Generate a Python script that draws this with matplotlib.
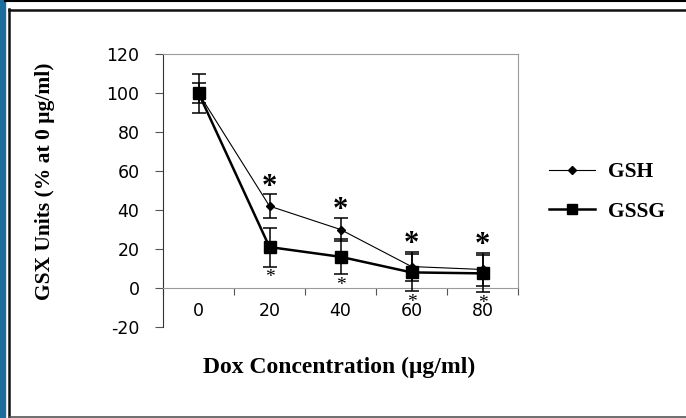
import matplotlib.pyplot as plt
from matplotlib.lines import Line2D
from matplotlib.patches import Rectangle

plt.rcParams['axes.unicode_minus'] = False

# GSH / GSSG levels vs doxorubicin dose
dox = ['0', '20', '40', '60', '80']
gsh = [100, 42, 30, 11, 9.5]
gsh_err = [10, 6, 6, 7.5, 8.5]
gssg = [100, 21, 16, 8, 7.5]
gssg_err = [5, 10, 9, 9.5, 9.5]

W, H = 686, 418
fig = plt.figure(figsize=(W / 100, H / 100), dpi=100)
ax = fig.add_axes([163 / W, 1 - 327 / H, 355 / W, 273 / H])

x = list(range(len(dox)))
ax.errorbar(x, gsh, yerr=gsh_err, color='black', lw=0.8, marker='D', ms=4.5,
            capsize=5, elinewidth=1.1, capthick=1.1, zorder=3)
ax.errorbar(x, gssg, yerr=gssg_err, color='black', lw=1.8, marker='s', ms=8,
            capsize=5, elinewidth=1.1, capthick=1.1, zorder=4)

# significance stars
for i in range(1, len(dox)):
    ax.annotate('*', xy=(i, gsh[i] + gsh_err[i]), xytext=(0, 5), textcoords='offset points',
                ha='center', va='center', fontsize=22, fontweight='bold',
                fontfamily='Liberation Serif')
    ax.annotate('*', xy=(i, gssg[i] - gssg_err[i]), xytext=(0, -8), textcoords='offset points',
                ha='center', va='center', fontsize=14,
                fontfamily='Liberation Serif')

ax.set_xlim(-0.5, len(dox) - 0.5)
ax.set_ylim(-20, 120)
ax.set_yticks(range(-20, 121, 20))

ax.spines['bottom'].set_position(('data', 0))
ax.spines['bottom'].set_color('#9a9a9a')
ax.spines['top'].set_color('#9a9a9a')
ax.spines['right'].set_color('#9a9a9a')
ax.spines['right'].set_bounds(0, 120)
ax.spines['left'].set_color('#333333')

ax.set_xticks([i - 0.5 for i in range(len(dox) + 1)])
ax.set_xticklabels([])
ax.set_xticks(x, minor=True)
ax.set_xticklabels(dox, minor=True)
ax.tick_params(axis='x', which='major', direction='out', length=5, color='#555555')
ax.tick_params(axis='x', which='minor', length=0, pad=10, labelsize=12.5)
ax.tick_params(axis='y', direction='out', length=6, pad=11, labelsize=12.5, color='#555555')

fig.text(45 / W, 1 - 181 / H, 'GSX Units (% at 0 \u03bcg/ml)', rotation=90,
         ha='center', va='center', fontsize=15.5, fontweight='bold', fontfamily='Liberation Serif')
fig.text(339 / W, 1 - 367 / H, 'Dox Concentration (\u03bcg/ml)',
         ha='center', va='center', fontsize=17, fontweight='bold', fontfamily='Liberation Serif')

handles = [Line2D([], [], color='black', lw=0.8, marker='D', ms=4.5),
           Line2D([], [], color='black', lw=1.8, marker='s', ms=7)]
fig.legend(handles, ['GSH', 'GSSG'], loc='center left', bbox_to_anchor=(549 / W, 1 - 192 / H),
           frameon=False, borderpad=0, borderaxespad=0, handlelength=2.15, handletextpad=0.6,
           labelspacing=0.9, prop={'family': 'Liberation Serif', 'weight': 'bold', 'size': 15.5})

# page frame
fig.patches.append(Rectangle((0, 0), 5 / W, 1, transform=fig.transFigure, color='#1b6b9c'))
fig.lines.append(Line2D([5 / W, 1], [1 - 1 / H] * 2, transform=fig.transFigure, color='black', lw=1.5))
fig.lines.append(Line2D([9 / W, 9 / W], [1 - 9 / H, 1 - 417 / H], transform=fig.transFigure, color='#111111', lw=1.8))
fig.lines.append(Line2D([9 / W, 1], [1 - 9.5 / H] * 2, transform=fig.transFigure, color='#111111', lw=1.8))
fig.lines.append(Line2D([9 / W, 1], [1 - 416.5 / H] * 2, transform=fig.transFigure, color='#555555', lw=1.2))

fig.savefig('out.png', dpi=100)
